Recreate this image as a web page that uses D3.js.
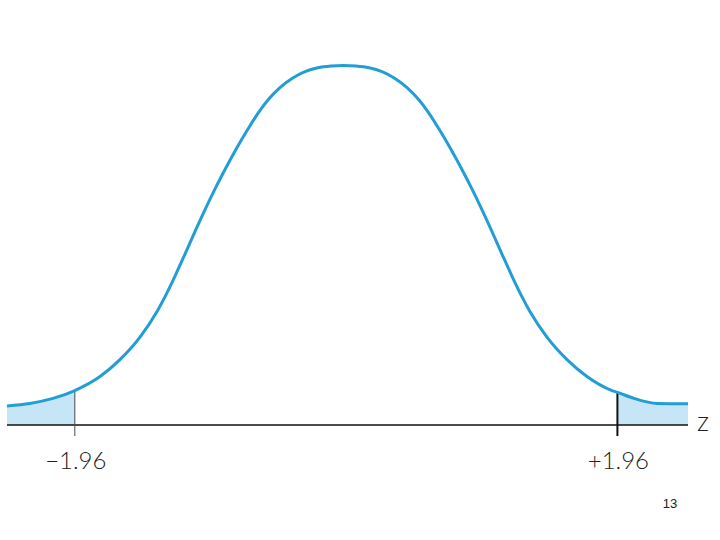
<!DOCTYPE html>
<html>
<head>
<meta charset="utf-8">
<script src="https://cdn.jsdelivr.net/npm/d3@7"></script>
<style>
  body { margin: 0; background: #fff; }
  svg { display: block; }
</style>
</head>
<body>
<div id="chart"></div>
<script>
// Canvas dimensions
var width = 720, height = 540;

// Curve: z value and curve height (density units)
var zValues = [-2.45, -2.284, -2.118, -1.96, -1.778, -1.634, -1.489, -1.366, -1.309, -1.236,
    -1.164, -1.092, -1.020, -0.947, -0.875, -0.789, -0.709, -0.637, -0.565, -0.478,
    -0.391, -0.297, -0.203, -0.109, -0.019, 0.071, 0.165, 0.259, 0.353, 0.440,
    0.527, 0.599, 0.671, 0.751, 0.837, 0.909, 0.982, 1.054, 1.126, 1.198,
    1.271, 1.328, 1.451, 1.596, 1.740, 1.921, 1.96, 2.080, 2.246, 2.47];
var densities = [0.0213, 0.0240, 0.0296, 0.0384, 0.0540, 0.0728, 0.0979, 0.1264, 0.1428, 0.1660,
    0.1905, 0.2154, 0.2396, 0.2630, 0.2847, 0.3090, 0.3298, 0.3473, 0.3621, 0.3760,
    0.3862, 0.3938, 0.3980, 0.3999, 0.4006, 0.3999, 0.3980, 0.3938, 0.3862, 0.3760,
    0.3621, 0.3473, 0.3298, 0.3090, 0.2847, 0.2630, 0.2396, 0.2154, 0.1905, 0.1660,
    0.1428, 0.1264, 0.0979, 0.0728, 0.0540, 0.0384, 0.0364, 0.0296, 0.0240, 0.0236];

// Critical values and their labels
var criticalValues = [-1.96, 1.96];
var criticalLabels = ['\u22121.96', '+1.96'];
var axisLabel = 'z';
var pageNumber = '13';

var points = zValues.map(function(z, i) {
    return {z: z, d: densities[i]};
});

var svg = d3.select('#chart')
    .append('svg')
    .attr('width', width)
    .attr('height', height);

var x = d3.scaleLinear().domain([-2.45, 2.47]).range([7, 688]);
var y = d3.scaleLinear().domain([0, 0.4]).range([425, 66]);

var line = d3.line()
    .x(function(d) { return x(d.z); })
    .y(function(d) { return y(d.d); })
    .curve(d3.curveMonotoneX);

var area = d3.area()
    .x(function(d) { return x(d.z); })
    .y0(y(0))
    .y1(function(d) { return y(d.d); })
    .curve(d3.curveMonotoneX);

// Shaded tails
var leftTail = points.filter(function(p) { return p.z <= criticalValues[0]; });
var rightTail = points.filter(function(p) { return p.z >= criticalValues[1]; });

svg.selectAll('path.tail')
    .data([leftTail, rightTail])
    .enter().append('path')
    .attr('class', 'tail')
    .attr('d', area)
    .attr('fill', '#c6e6f8');

// Baseline
svg.append('line')
    .attr('x1', x(-2.45)).attr('x2', x(2.47))
    .attr('y1', y(0)).attr('y2', y(0))
    .attr('stroke', '#111')
    .attr('stroke-width', 1.5);

// Tick marks at the critical values, from the curve down past the baseline
function curveAt(z) {
    return densities[zValues.indexOf(z)];
}

svg.selectAll('line.crit')
    .data(criticalValues)
    .enter().append('line')
    .attr('class', 'crit')
    .attr('x1', function(d) { return x(d); })
    .attr('x2', function(d) { return x(d); })
    .attr('y1', function(d) { return y(curveAt(d)); })
    .attr('y2', y(0) + 11)
    .attr('stroke', function(d, i) { return i === 0 ? '#4a4a4a' : '#111'; })
    .attr('stroke-width', function(d, i) { return i === 0 ? 1 : 2; });

// Curve
svg.append('path')
    .datum(points)
    .attr('d', line)
    .attr('fill', 'none')
    .attr('stroke', '#229dd6')
    .attr('stroke-width', 3)
    .attr('stroke-linejoin', 'round');

// Labels
svg.selectAll('text.crit')
    .data(criticalValues)
    .enter().append('text')
    .attr('class', 'crit')
    .attr('x', function(d) { return x(d) + 1; })
    .attr('y', 469)
    .attr('text-anchor', 'middle')
    .attr('font-family', 'Lato, "Open Sans", sans-serif')
    .attr('font-weight', 300)
    .attr('font-size', 24)
    .attr('fill', '#222')
    .text(function(d, i) { return criticalLabels[i]; });

svg.append('text')
    .attr('x', 697)
    .attr('y', 431)
    .attr('font-family', 'Lato, "Open Sans", sans-serif')
    .attr('font-weight', 300)
    .attr('font-size', 27)
    .attr('fill', '#222')
    .text(axisLabel);

svg.append('text')
    .attr('x', 670)
    .attr('y', 508)
    .attr('text-anchor', 'middle')
    .attr('font-family', '"Liberation Sans", Arial, sans-serif')
    .attr('font-size', 13)
    .attr('fill', '#222')
    .text(pageNumber);
</script>
</body>
</html>
